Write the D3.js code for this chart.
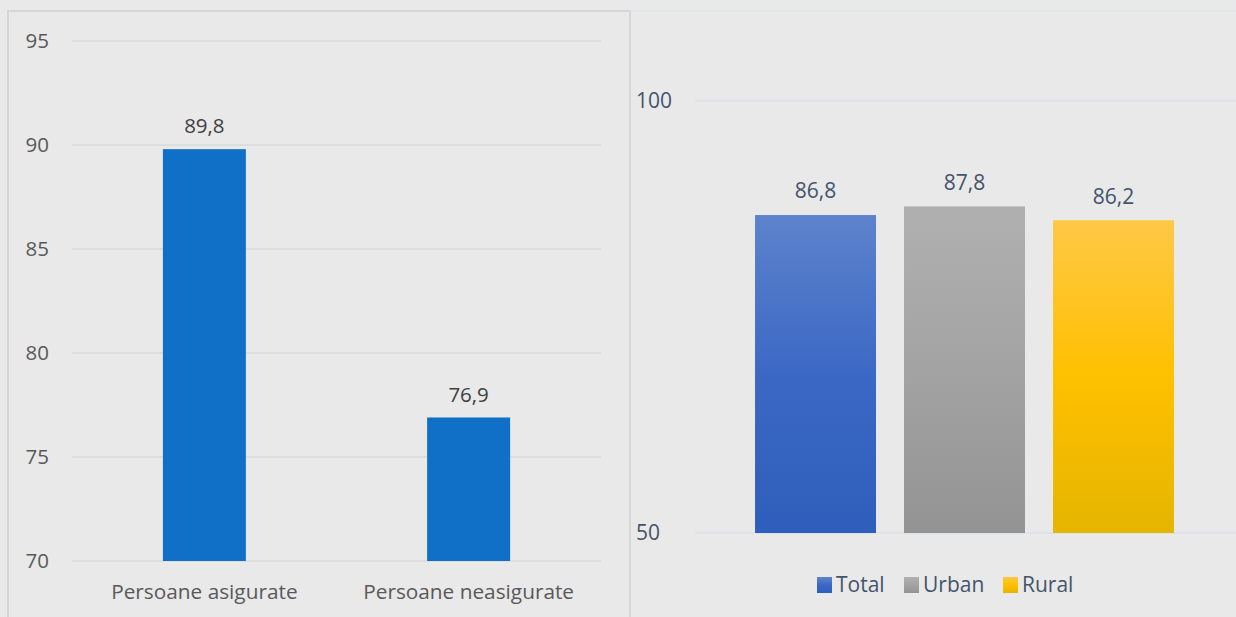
<!DOCTYPE html>
<html><head><meta charset="utf-8">
<script src="https://cdn.jsdelivr.net/npm/d3@7/dist/d3.min.js"></script>
<style>
html,body{margin:0;padding:0;background:#e9e9e9;}
svg{display:block;}
</style></head>
<body>
<svg id="c" width="1236" height="617"></svg>
<script>
// Left chart data
const leftCategories = ["Persoane asigurate", "Persoane neasigurate"];
const leftValues = [89.8, 76.9];
const leftTicks = [70, 75, 80, 85, 90, 95];
// Right chart data
const rightSeries = ["Total", "Urban", "Rural"];
const rightValues = [86.8, 87.8, 86.2];
const rightTicks = [50, 100];

const FONT = "'Open Sans', Lato, sans-serif";
const fmt = v => d3.format(".1f")(v).replace(".", ",");

const svg = d3.select("#c");
const defs = svg.append("defs");

// Left panel border
svg.append("rect").attr("x", 8).attr("y", 11).attr("width", 622).attr("height", 620)
  .attr("fill", "none").attr("stroke", "#d6d6d6").attr("stroke-width", 2);
// Right panel top line
svg.append("line").attr("x1", 631).attr("x2", 1236).attr("y1", 11).attr("y2", 11)
  .attr("stroke", "#dfe4ea").attr("stroke-width", 1.5);

// ---------- Left chart ----------
const yL = d3.scaleLinear().domain([70, 95]).range([561, 41]);
const xL = d3.scaleBand().domain(leftCategories).range([72, 601]).paddingInner(0.686).paddingOuter(0.344);

const gL = svg.append("g");
gL.selectAll("line.grid").data(leftTicks).join("line")
  .attr("x1", 72).attr("x2", 601)
  .attr("y1", d => yL(d)).attr("y2", d => yL(d))
  .attr("stroke", "#d9d9d9").attr("stroke-width", 1.5);
gL.selectAll("text.tick").data(leftTicks).join("text")
  .attr("x", 49).attr("y", d => yL(d)).attr("dy", "0.35em")
  .attr("text-anchor", "end").attr("fill", "#595959")
  .style("font", `20.5px ${FONT}`).text(d => d);
gL.selectAll("rect.bar").data(leftValues).join("rect")
  .attr("x", (d, i) => xL(leftCategories[i])).attr("width", xL.bandwidth())
  .attr("y", d => yL(d)).attr("height", d => yL(70) - yL(d))
  .attr("fill", "#1070c7");
gL.selectAll("text.val").data(leftValues).join("text")
  .attr("x", (d, i) => xL(leftCategories[i]) + xL.bandwidth() / 2)
  .attr("y", d => yL(d) - 23).attr("dy", "0.35em")
  .attr("text-anchor", "middle").attr("fill", "#404040")
  .style("font", `20.5px ${FONT}`).text(d => fmt(d));
gL.selectAll("text.cat").data(leftCategories).join("text")
  .attr("x", d => xL(d) + xL.bandwidth() / 2).attr("y", 592).attr("dy", "0.35em")
  .attr("text-anchor", "middle").attr("fill", "#595959")
  .style("font", `20.8px ${FONT}`).text(d => d);

// ---------- Right chart ----------
const grads = [
  ["#5d83cc", "#3c68c5", "#2e5ebb"],
  ["#b0b0b0", "#a3a3a3", "#939393"],
  ["#ffc846", "#ffc000", "#e5b500"]
];
grads.forEach((g, i) => {
  const lg = defs.append("linearGradient").attr("id", "g" + i)
    .attr("x1", 0).attr("x2", 0).attr("y1", 0).attr("y2", 1);
  lg.append("stop").attr("offset", "0%").attr("stop-color", g[0]);
  lg.append("stop").attr("offset", "50%").attr("stop-color", g[1]);
  lg.append("stop").attr("offset", "100%").attr("stop-color", g[2]);
});

const yR = d3.scaleLinear().domain([50, 100]).range([533, 101]);
const xR = d3.scaleBand().domain(rightSeries).range([695, 1234]).paddingInner(0.188).paddingOuter(0.403);

const gR = svg.append("g");
gR.selectAll("line.grid").data(rightTicks).join("line")
  .attr("x1", 695).attr("x2", 1236)
  .attr("y1", d => yR(d)).attr("y2", d => yR(d))
  .attr("stroke", "#dde3ea").attr("stroke-width", 2);
gR.selectAll("text.tick").data(rightTicks).join("text")
  .attr("x", 636).attr("y", d => yR(d)).attr("dy", "0.35em")
  .attr("text-anchor", "start").attr("fill", "#44546a")
  .style("font", `21px ${FONT}`).text(d => d);
gR.selectAll("rect.bar").data(rightValues).join("rect")
  .attr("x", (d, i) => xR(rightSeries[i])).attr("width", xR.bandwidth())
  .attr("y", d => yR(d)).attr("height", d => yR(50) - yR(d))
  .attr("fill", (d, i) => `url(#g${i})`);
gR.selectAll("text.val").data(rightValues).join("text")
  .attr("x", (d, i) => xR(rightSeries[i]) + xR.bandwidth() / 2)
  .attr("y", d => yR(d) - 24).attr("dy", "0.35em")
  .attr("text-anchor", "middle").attr("fill", "#44546a")
  .style("font", `21px ${FONT}`).text(d => fmt(d));

// Legend
const legX = [817, 904, 1003];
const leg = gR.selectAll("g.leg").data(rightSeries).join("g")
  .attr("transform", (d, i) => `translate(${legX[i]},585)`);
leg.append("rect").attr("x", 0).attr("y", -8).attr("width", 15).attr("height", 16)
  .attr("fill", (d, i) => `url(#g${i})`);
leg.append("text").attr("x", 19).attr("y", 0).attr("dy", "0.35em")
  .attr("fill", "#44546a").style("font", `21px ${FONT}`).text(d => d);
</script>
</body></html>
